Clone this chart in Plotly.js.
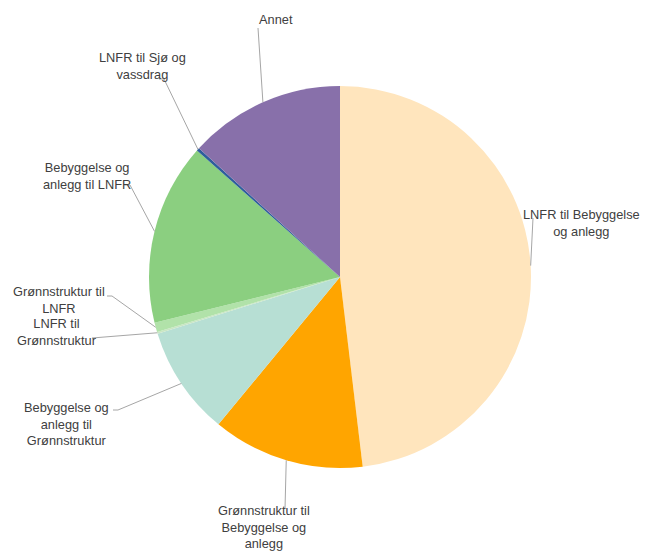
<!DOCTYPE html>
<html>
<head>
<meta charset="utf-8">
<script src="https://cdn.plot.ly/plotly-3.0.1.min.js"></script>
<style>html,body{margin:0;padding:0;background:#fff;}#chart{width:655px;height:552px;}</style>
</head>
<body>
<div id="chart"></div>
<script>
// ---- data ----
const categories = [
  "LNFR til Bebyggelse og anlegg",
  "Grønnstruktur til Bebyggelse og anlegg",
  "Bebyggelse og anlegg til Grønnstruktur",
  "LNFR til Grønnstruktur",
  "Grønnstruktur til LNFR",
  "Bebyggelse og anlegg til LNFR",
  "LNFR til Sjø og vassdrag",
  "Annet"
];
const values = [48.2, 12.9, 9.25, 0.15, 0.8, 15.4, 0.25, 13.25];
const labelTexts = [
  "LNFR til Bebyggelse<br>og anlegg",
  "Grønnstruktur til<br>Bebyggelse og<br>anlegg",
  "Bebyggelse og<br>anlegg til<br>Grønnstruktur",
  "LNFR til<br>Grønnstruktur",
  "Grønnstruktur til<br>LNFR",
  "Bebyggelse og<br>anlegg til LNFR",
  "LNFR til Sjø og<br>vassdrag",
  "Annet"
];
const colors = ["#FFE5BD", "#FFA500", "#B7DFD4", "#C9E6C4", "#B1E2A9", "#8BCF80", "#2E5E9C", "#8870AA"];

// ---- layout / style ----
const W = 655, H = 552;
const cx = 340, cy = 277, R = 191;
// label text centre [x, y] (px) and leader start/elbow points (px)
const labelStyle = [
  {pos: [581, 223], pts: [[533, 218]]},
  {pos: [264, 527], pts: [[285, 509]]},
  {pos: [66, 424], pts: [[113, 410], [118, 410]]},
  {pos: [57, 332], pts: [[92, 338]]},
  {pos: [59, 300], pts: [[107, 296], [112, 296]]},
  {pos: [87, 176], pts: [[124, 185], [130, 185]]},
  {pos: [142, 66], pts: [[159, 79], [164, 79]]},
  {pos: [276, 19], pts: [[258, 28]]}
];

const total = values.reduce((a, b) => a + b, 0);
let cum = 0;
const anchors = values.map(v => {
  const mid = (cum + v / 2) / total * 2 * Math.PI;
  cum += v;
  return [cx + R * Math.sin(mid), cy - R * Math.cos(mid)];
});

const px = x => x / W, py = y => 1 - y / H;

const annotations = labelTexts.map((t, i) => ({
  text: t, xref: "paper", yref: "paper",
  x: px(labelStyle[i].pos[0]), y: py(labelStyle[i].pos[1]),
  xanchor: "center", yanchor: "middle", align: "center", showarrow: false,
  font: {family: "Liberation Sans, Arial, sans-serif", size: 12.8, color: "#404040"}
}));

const shapes = labelStyle.map((s, i) => {
  const pts = s.pts.concat([anchors[i]]);
  const path = pts.map((p, k) => (k ? "L" : "M") + px(p[0]) + "," + py(p[1])).join(" ");
  return {type: "path", xref: "paper", yref: "paper", path: path,
          line: {color: "#A6A6A6", width: 1}};
});

const trace = {
  type: "pie",
  labels: categories,
  values: values,
  sort: false,
  direction: "clockwise",
  rotation: 0,
  textinfo: "none",
  marker: {colors: colors, line: {width: 0}},
  domain: {x: [(cx - R) / W, (cx + R) / W], y: [1 - (cy + R) / H, 1 - (cy - R) / H]},
  showlegend: false
};

Plotly.newPlot("chart", [trace], {
  width: W, height: H,
  margin: {l: 0, r: 0, t: 0, b: 0},
  paper_bgcolor: "#fff",
  showlegend: false,
  annotations: annotations,
  shapes: shapes
}, {displayModeBar: false, staticPlot: true});
</script>
</body>
</html>
